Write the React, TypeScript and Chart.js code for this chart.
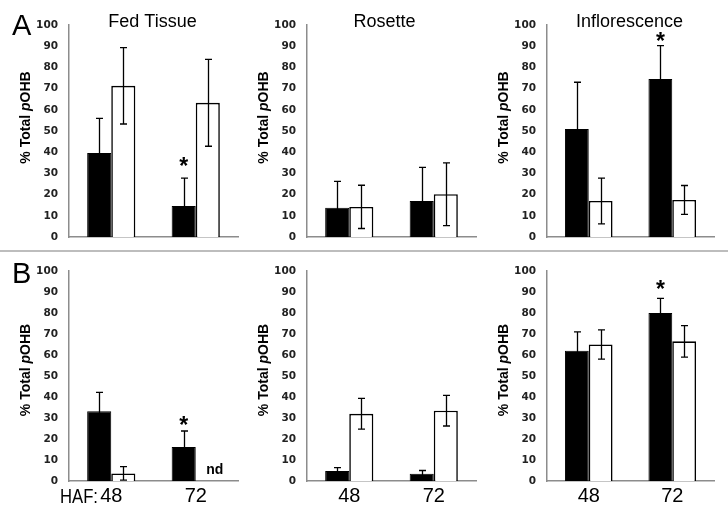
import React, { useEffect, useRef } from 'react';
import { Chart, registerables } from 'chart.js';
Chart.register(...registerables);

const FONT = '"Liberation Sans", Arial, sans-serif';

const hafLabels = ['48', '72'];
const panelTitles = ['Fed Tissue', 'Rosette', 'Inflorescence'];
const yTitleParts = ['% Total ', 'p', 'OHB'];
const rowLetters = ['A', 'B'];

// Row A (black = first series, white = second series)
const fedA_black = [39.6, 14.6];
const fedA_blackErr = [16.4, 13.2];
const fedA_white = [71.3, 63.3];
const fedA_whiteErr = [18, 20.5];
const rosA_black = [13.8, 17];
const rosA_blackErr = [12.4, 15.8];
const rosA_white = [14.2, 20.2];
const rosA_whiteErr = [10.2, 14.8];
const infA_black = [51, 74.5];
const infA_blackErr = [22, 15.8];
const infA_white = [17, 17.5];
const infA_whiteErr = [10.8, 6.8];

// Row B
const fedB_black = [33.2, 16.2];
const fedB_blackErr = [9, 7.6];
const fedB_white = [3.6, null];
const fedB_whiteErr = [3.2, 0];
const rosB_black = [4.8, 3.5];
const rosB_blackErr = [1.6, 1.5];
const rosB_white = [32, 33.5];
const rosB_whiteErr = [7.3, 7.3];
const infB_black = [62, 80];
const infB_blackErr = [9, 7];
const infB_white = [65, 66.5];
const infB_whiteErr = [7, 7.5];

// significance stars (category index, value where the star sits)
const fedA_stars = [{ idx: 1, value: 35.8 }];
const infA_stars = [{ idx: 1, value: 94.8 }];
const fedB_stars = [{ idx: 1, value: 29.3 }];
const infB_stars = [{ idx: 1, value: 94 }];
// "nd" marker (not detected) for the white series
const fedB_nd = [{ idx: 1, value: 3.3 }];

const cols = [
  { left: 0, width: 245, axisW: 69, padR: 7, titleX: 152.5 },
  { left: 245, width: 238, axisW: 62, padR: 7, titleX: 384.5 },
  { left: 483, width: 245, axisW: 64, padR: 14, titleX: 629.5 },
];
const rows = [
  { top: 0, height: 249, padT: 25, padB: 4, xH: 8, showX: false, yTitleY: 117.5, letterY: 35 },
  { top: 252, height: 265, padT: 19, padB: 0, xH: 36, showX: true, yTitleY: 370, letterY: 283 },
];

type Panel = {
  row: number; col: number;
  black: (number | null)[]; blackErr: number[];
  white: (number | null)[]; whiteErr: number[];
  stars: { idx: number; value: number }[];
  nd: { idx: number; value: number }[];
};

const panels: Panel[] = [
  { row: 0, col: 0, black: fedA_black, blackErr: fedA_blackErr, white: fedA_white, whiteErr: fedA_whiteErr, stars: fedA_stars, nd: [] },
  { row: 0, col: 1, black: rosA_black, blackErr: rosA_blackErr, white: rosA_white, whiteErr: rosA_whiteErr, stars: [], nd: [] },
  { row: 0, col: 2, black: infA_black, blackErr: infA_blackErr, white: infA_white, whiteErr: infA_whiteErr, stars: infA_stars, nd: [] },
  { row: 1, col: 0, black: fedB_black, blackErr: fedB_blackErr, white: fedB_white, whiteErr: fedB_whiteErr, stars: fedB_stars, nd: fedB_nd },
  { row: 1, col: 1, black: rosB_black, blackErr: rosB_blackErr, white: rosB_white, whiteErr: rosB_whiteErr, stars: [], nd: [] },
  { row: 1, col: 2, black: infB_black, blackErr: infB_blackErr, white: infB_white, whiteErr: infB_whiteErr, stars: infB_stars, nd: [] },
];

function makeDeco(p: Panel) {
  const c = cols[p.col];
  const r = rows[p.row];
  return {
    id: 'deco',
    afterDatasetsDraw(chart: any) {
      const ctx = chart.ctx;
      const ys = chart.scales.y;
      const errs = [p.blackErr, p.whiteErr];
      const vals = [p.black, p.white];
      ctx.save();
      ctx.strokeStyle = '#000';
      ctx.lineWidth = 1.3;
      [0, 1].forEach((di) => {
        const meta = chart.getDatasetMeta(di);
        vals[di].forEach((v, j) => {
          if (v == null) return;
          const e = errs[di][j];
          if (!e) return;
          const el = meta.data[j];
          const x = Math.round(el.x) + 0.5;
          const yt = ys.getPixelForValue(v + e);
          const yb = ys.getPixelForValue(v - e);
          ctx.beginPath();
          ctx.moveTo(x, yt); ctx.lineTo(x, yb);
          ctx.moveTo(x - 3.5, yt); ctx.lineTo(x + 3.5, yt);
          ctx.moveTo(x - 3.5, yb); ctx.lineTo(x + 3.5, yb);
          ctx.stroke();
        });
      });
      ctx.fillStyle = '#000';
      ctx.textAlign = 'center';
      ctx.textBaseline = 'alphabetic';
      const blackMeta = chart.getDatasetMeta(0);
      const whiteMeta = chart.getDatasetMeta(1);
      p.stars.forEach((s) => {
        const size = 23;
        ctx.font = `bold ${size}px ${FONT}`;
        const x = blackMeta.data[s.idx].x;
        const y = ys.getPixelForValue(s.value) + 0.57 * size;
        ctx.fillText('*', x, y);
      });
      p.nd.forEach((s) => {
        ctx.font = `bold 14px ${FONT}`;
        const x = whiteMeta.data[0].x - blackMeta.data[0].x + blackMeta.data[s.idx].x + 7;
        ctx.fillText('nd', x, ys.getPixelForValue(s.value));
      });
      ctx.restore();
    },
    afterDraw(chart: any) {
      const ctx = chart.ctx;
      const ca = chart.chartArea;
      ctx.save();
      ctx.fillStyle = '#000';
      if (p.row === 0) {
        ctx.font = `18px ${FONT}`;
        ctx.textAlign = 'center';
        ctx.textBaseline = 'alphabetic';
        ctx.fillText(panelTitles[p.col], c.titleX - c.left, 27);
      }
      if (p.col === 0) {
        ctx.font = `29px ${FONT}`;
        ctx.textAlign = 'left';
        ctx.textBaseline = 'alphabetic';
        ctx.fillText(rowLetters[p.row], 12, r.letterY - r.top);
      }
      if (p.row === 1 && p.col === 0) {
        ctx.font = `20px ${FONT}`;
        ctx.textAlign = 'right';
        ctx.textBaseline = 'alphabetic';
        ctx.fillText('HAF:', 98, 502.5 - r.top, 38);
      }
      ctx.translate(ca.left - 42.5, r.yTitleY - r.top);
      ctx.rotate(-Math.PI / 2);
      ctx.textBaseline = 'middle';
      ctx.textAlign = 'left';
      const fonts = [`bold 14px ${FONT}`, `italic bold 14px ${FONT}`, `bold 14px ${FONT}`];
      let total = 0;
      const widths = yTitleParts.map((t, i) => { ctx.font = fonts[i]; const w = ctx.measureText(t).width; total += w; return w; });
      let x = -total / 2;
      yTitleParts.forEach((t, i) => { ctx.font = fonts[i]; ctx.fillText(t, x, 0); x += widths[i]; });
      ctx.restore();
    },
  };
}

function PanelChart({ p }: { p: Panel }) {
  const ref = useRef<HTMLCanvasElement>(null);
  const c = cols[p.col];
  const r = rows[p.row];
  useEffect(() => {
    if (!ref.current) return;
    const chart = new Chart(ref.current, {
      type: 'bar',
      data: {
        labels: hafLabels,
        datasets: [
          { data: p.black, backgroundColor: '#000', borderColor: '#000', borderWidth: 1 },
          { data: p.white, backgroundColor: '#fff', borderColor: '#000', borderWidth: 1.6 },
        ],
      },
      options: {
        responsive: false,
        animation: false,
        devicePixelRatio: 1,
        layout: { padding: { left: 0, right: c.padR, top: r.padT, bottom: r.padB } },
        datasets: { bar: { categoryPercentage: 0.57, barPercentage: 1 } },
        plugins: { legend: { display: false }, tooltip: { enabled: false }, title: { display: false } },
        scales: {
          x: {
            grid: { display: false, drawTicks: false },
            border: { display: true, color: '#8c8c8c', width: 1.5 },
            ticks: { display: r.showX, color: '#000', font: { family: FONT, size: 20 }, padding: 3 },
            afterFit: (s: any) => { s.height = r.xH; s.paddingLeft = 0; s.paddingRight = 0; },
          },
          y: {
            min: 0, max: 100,
            grid: { display: false, drawTicks: false },
            border: { display: true, color: '#8c8c8c', width: 1.5 },
            ticks: { stepSize: 10, color: '#222', font: { family: '"DejaVu Sans", sans-serif', size: 10.5, weight: 'bold' }, padding: 11 },
            afterFit: (s: any) => { s.width = c.axisW; s.paddingTop = 0; s.paddingBottom = 0; },
          },
        },
      } as any,
      plugins: [makeDeco(p) as any],
    });
    return () => chart.destroy();
  }, []);
  return (
    <canvas
      ref={ref}
      width={c.width}
      height={r.height}
      style={{ position: 'absolute', left: c.left, top: r.top, width: c.width, height: r.height }}
    />
  );
}

export default function App() {
  return (
    <div style={{ position: 'absolute', left: 0, top: 0, width: 728, height: 517, background: '#fff', overflow: 'hidden' }}>
      {panels.map((p, i) => <PanelChart key={i} p={p} />)}
      <div style={{ position: 'absolute', left: 0, top: 250, width: 728, height: 2, background: '#bdbdbd' }} />
    </div>
  );
}
